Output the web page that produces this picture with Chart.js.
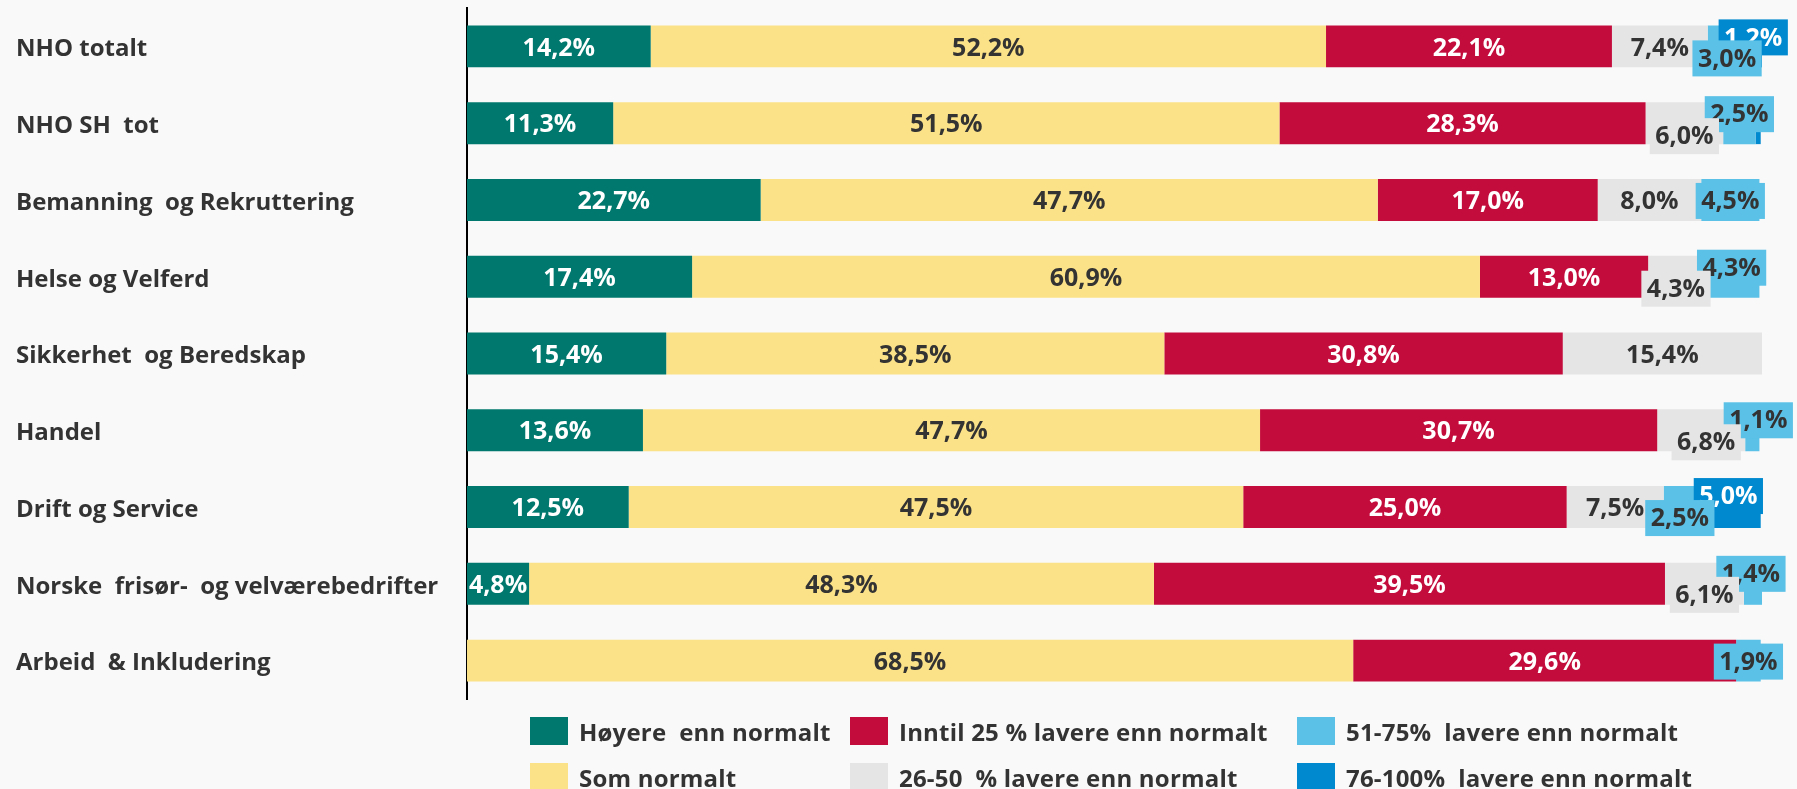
<!DOCTYPE html>
<html lang="no">
  <head>
    <meta charset="UTF-8" />
    <title>Omsetning sammenlignet med normalt</title>
    <script src="https://cdn.jsdelivr.net/npm/chart.js"></script>
    <style>
      body {
        margin: 0;
        background: #f9f9f9;
        font-family: "Open Sans", sans-serif;
      }
      .wrap {
        position: relative;
        width: 1797px;
        height: 789px;
      }
      .legend {
        position: absolute;
        left: 530px;
        top: 708px;
        display: grid;
        grid-auto-flow: column;
        grid-template-rows: 46px 46px;
        grid-template-columns: 320px 447px auto;
      }
      .legend-item {
        display: flex;
        align-items: center;
        font-weight: bold;
        font-size: 24px;
        letter-spacing: 0.2px;
        color: #333;
        white-space: pre;
      }
      .legend-item span.box {
        width: 38px;
        height: 28px;
        margin-right: 11px;
      }
    </style>
  </head>
  <body>
    <div class="wrap">
      <canvas id="chart"></canvas>
      <div class="legend" id="legend"></div>
    </div>

    <script>
      // kategorier og verdier (prosent)
      const categories = [
        "NHO totalt",
        "NHO SH  tot",
        "Bemanning  og Rekruttering",
        "Helse og Velferd",
        "Sikkerhet  og Beredskap",
        "Handel",
        "Drift og Service",
        "Norske  frisør-  og velværebedrifter",
        "Arbeid  & Inkludering",
      ];
      const seriesNames = [
        "Høyere  enn normalt",
        "Som normalt",
        "Inntil 25 % lavere enn normalt",
        "26-50  % lavere enn normalt",
        "51-75%  lavere enn normalt",
        "76-100%  lavere enn normalt",
      ];
      const hoyere = [14.2, 11.3, 22.7, 17.4, 15.4, 13.6, 12.5, 4.8, 0];
      const somNormalt = [52.2, 51.5, 47.7, 60.9, 38.5, 47.7, 47.5, 48.3, 68.5];
      const inntil25 = [22.1, 28.3, 17.0, 13.0, 30.8, 30.7, 25.0, 39.5, 29.6];
      const lavere26til50 = [7.4, 6.0, 8.0, 4.3, 15.4, 6.8, 7.5, 6.1, 0];
      const lavere51til75 = [3.0, 2.5, 4.5, 4.3, 0, 1.1, 2.5, 1.4, 1.9];
      const lavere76til100 = [1.2, 0.4, 0, 0, 0, 0, 5.0, 0, 0];

      const colors = ["#00786d", "#fbe288", "#c30b3c", "#e5e5e5", "#5bc1e7", "#0089cf"];
      const labelColors = ["#fff", "#333", "#fff", "#333", "#333", "#fff"];

      // flytting av etiketter som ikke får plass: "rad-serie": [dx, dy]
      const labelNudge = {
        "0-4": [0, 11], "0-5": [-1, -10],
        "1-3": [0, 12], "1-4": [0, -10],
        "2-4": [0, 0],
        "3-3": [0, 11], "3-4": [0, -10],
        "5-3": [5, 11], "5-4": [6, -11],
        "6-4": [0, 10], "6-5": [0, -12],
        "7-3": [0, 10], "7-4": [-2, -11],
        "8-4": [0, 0],
      };

      const allSeries = [hoyere, somNormalt, inntil25, lavere26til50, lavere51til75, lavere76til100];

      const barLabels = {
        id: "barLabels",
        afterDatasetsDraw(chart) {
          const ctx = chart.ctx;
          ctx.save();
          ctx.font = "bold 25px 'Open Sans'";
          ctx.textAlign = "center";
          ctx.textBaseline = "middle";
          for (let d = chart.data.datasets.length - 1; d >= 0; d--) {
            const meta = chart.getDatasetMeta(d);
            meta.data.forEach((bar, i) => {
              const v = allSeries[d][i];
              if (v < 0.5) return;
              const txt = v.toFixed(1).replace(".", ",") + "%";
              const nudge = labelNudge[i + "-" + d];
              let x = (bar.x + bar.base) / 2;
              let y = bar.y + 2;
              if (nudge) {
                x += nudge[0];
                y += nudge[1];
                const w = ctx.measureText(txt).width + 11;
                ctx.fillStyle = colors[d];
                ctx.fillRect(x - w / 2, y - 19, w, 36);
              }
              ctx.fillStyle = labelColors[d];
              ctx.fillText(txt, x, y);
            });
          }
          ctx.restore();
        },
      };

      const ctx = document.getElementById("chart").getContext("2d");
      const chart = new Chart(ctx, {
        type: "bar",
        data: {
          labels: categories,
          datasets: allSeries.map((data, k) => ({
            label: seriesNames[k],
            data: data,
            backgroundColor: colors[k],
            borderWidth: 0,
            barPercentage: 0.546,
            categoryPercentage: 1,
          })),
        },
        options: {
          indexAxis: "y",
          responsive: true,
          maintainAspectRatio: false,
          animation: false,
          layout: {
            padding: { left: 16, top: 8, right: 35, bottom: 90 },
          },
          plugins: {
            legend: { display: false },
            tooltip: { enabled: false },
          },
          scales: {
            x: {
              stacked: true,
              display: false,
              min: 0,
              max: 100.1,
            },
            y: {
              stacked: true,
              z: 1,
              grid: { display: false },
              border: { display: true, color: "#000", width: 2 },
              ticks: {
                crossAlign: "far",
                labelOffset: 3,
                color: "#333",
                font: { family: "'Open Sans'", weight: "bold", size: 24 },
              },
              afterFit(scale) {
                scale.width = 451;
                scale.paddingTop = 0;
                scale.paddingBottom = 0;
              },
            },
          },
        },
        plugins: [barLabels],
      });

      // legende i tre kolonner
      const legend = document.getElementById("legend");
      seriesNames.forEach((name, k) => {
        const item = document.createElement("div");
        item.className = "legend-item";
        item.innerHTML =
          '<span class="box" style="background:' + colors[k] + '"></span>' + name;
        legend.appendChild(item);
      });
    </script>
  </body>
</html>
